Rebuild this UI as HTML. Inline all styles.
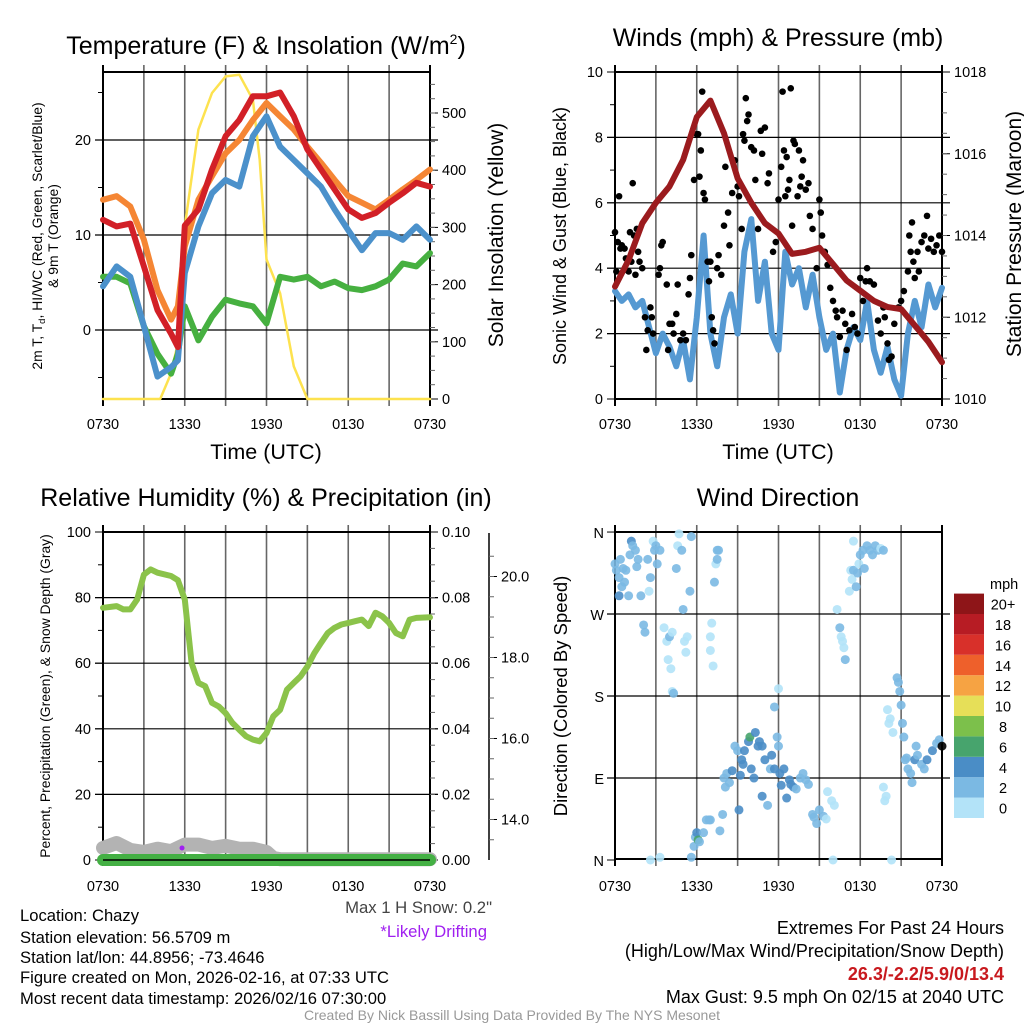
<!DOCTYPE html>
<html><head><meta charset="utf-8"><style>
body{margin:0;background:#fff;}
svg{display:block;font-family:"Liberation Sans",sans-serif;}
</style></head><body>
<svg id="fig" width="1024" height="1024" viewBox="0 0 1024 1024" xmlns="http://www.w3.org/2000/svg">
<rect width="1024" height="1024" fill="#fff"/>
<g id="texts">
<text x="266" y="54" font-size="25" text-anchor="middle">Temperature (F) &amp; Insolation (W/m<tspan font-size="14" dy="-10">2</tspan><tspan dy="10">)</tspan></text>
<text x="778" y="46" font-size="25" text-anchor="middle">Winds (mph) &amp; Pressure (mb)</text>
<text x="266" y="506" font-size="25" text-anchor="middle">Relative Humidity (%) &amp; Precipitation (in)</text>
<text x="778" y="506" font-size="25" text-anchor="middle">Wind Direction</text>
<text x="266" y="459" font-size="21.5" text-anchor="middle">Time (UTC)</text>
<text x="778" y="459" font-size="21.5" text-anchor="middle">Time (UTC)</text>
<text transform="translate(42,236) rotate(-90)" font-size="13.9" text-anchor="middle">2m T, T<tspan font-size="9.5" dy="3">d</tspan><tspan dy="-3">, HI/WC (Red, Green, Scarlet/Blue)</tspan></text>
<text transform="translate(58,236) rotate(-90)" font-size="13.9" text-anchor="middle">&amp; 9m T (Orange)</text>
<text transform="translate(503,235) rotate(-90)" font-size="21" text-anchor="middle">Solar Insolation (Yellow)</text>
<text transform="translate(566,236) rotate(-90)" font-size="18" text-anchor="middle">Sonic Wind &amp; Gust (Blue, Black)</text>
<text transform="translate(1021,234) rotate(-90)" font-size="21" text-anchor="middle">Station Pressure (Maroon)</text>
<text transform="translate(50,696) rotate(-90)" font-size="13.9" text-anchor="middle">Percent, Precipitation (Green), &amp; Snow Depth (Gray)</text>
<text transform="translate(567,696) rotate(-90)" font-size="18.5" text-anchor="middle">Direction (Colored By Speed)</text>
<text x="492" y="913" font-size="16.7" fill="#444" text-anchor="end">Max 1 H Snow: 0.2"</text>
<text x="487" y="937" font-size="16.7" fill="#a020f0" text-anchor="end">*Likely Drifting</text>
<g font-size="16.6">
<text x="20" y="921">Location: Chazy</text>
<text x="20" y="943">Station elevation: 56.5709 m</text>
<text x="20" y="963">Station lat/lon: 44.8956; -73.4646</text>
<text x="20" y="983">Figure created on Mon, 2026-02-16, at 07:33 UTC</text>
<text x="20" y="1004">Most recent data timestamp: 2026/02/16 07:30:00</text>
</g>
<g font-size="18" text-anchor="end">
<text x="1004" y="934">Extremes For Past 24 Hours</text>
<text x="1004" y="957">(High/Low/Max Wind/Precipitation/Snow Depth)</text>
<text x="1004" y="980" fill="#c8191e" font-weight="bold">26.3/-2.2/5.9/0/13.4</text>
<text x="1004" y="1003">Max Gust: 9.5 mph On 02/15 at 2040 UTC</text>
</g>
<text x="512" y="1020" font-size="14" fill="#999" text-anchor="middle">Created By Nick Bassill Using Data Provided By The NYS Mesonet</text>
</g>
</svg>
<script>
// ---- data (hours since 0730 UTC) ----
const hours = [0,1,2,3,4,5,5.5,6,7,8,9,10,11,12,13,14,15,16,17,18,19,20,21,22,23,24];
const tempRed = [11.6,10.9,11.2,6.7,2.1,-0.4,-1.8,11,12.7,16.9,20.4,22.1,24.6,24.6,25,22.5,19,16.9,14.8,12.7,11.8,12.3,13.4,14.4,15.5,15.1];
const temp9mOrange = [13.7,14.1,13,9.5,4.2,1.1,2.5,8.8,13.7,16.2,18.6,20,22.1,23.9,22.5,21.1,19.3,17.6,15.8,14.1,13.4,12.7,13.7,14.8,15.8,16.9];
const windChillBlue = [4.6,6.7,5.6,0.4,-4.9,-3.9,-3.2,6,10.9,14.4,15.8,15.1,20.4,22.5,19.3,17.9,16.5,15.1,12.7,10.5,8.4,10.2,10.2,9.5,10.9,9.5];
const dewGreen = [5.6,5.6,4.9,0.4,-2.5,-4.6,-2.5,2.5,-1.1,1.4,3.2,2.8,2.5,0.7,5.6,5.3,5.6,4.6,5.1,4.4,4.2,4.6,5.3,7,6.7,8.1];
const solarHours = [0,4.2,5,5.5,6,7,8,9,10,11,11.5,12,13,14,15,24];
const solarValues = [0,0,45,98,302,471,535,564,567,523,418,244,185,57,0,0];
const halfHours = [0,0.5,1,1.5,2,2.5,3,3.5,4,4.5,5,5.5,6,6.5,7,7.5,8,8.5,9,9.5,10,10.5,11,11.5,12,12.5,13,13.5,14,14.5,15,15.5,16,16.5,17,17.5,18,18.5,19,19.5,20,20.5,21,21.5,22,22.5,23,23.5,24];
const windSpeed = [3.3,3.0,3.2,2.8,3.0,2.2,1.4,2.0,1.6,1.0,1.8,0.6,2.5,5.0,2.0,1.0,2.5,3.2,2.0,4.5,5.5,3.0,4.2,2.0,1.5,4.5,3.5,4.0,2.8,3.8,2.5,1.5,2.0,0.2,1.5,2.2,1.8,3.0,1.5,0.8,1.6,0.6,0.1,2.0,3.0,2.2,3.5,2.8,3.4];
const pressureHours = [0,1,2,3,4,5,6,7,8,9,10,11,12,13,14,15,16,17,18,19,20,21,22,23,24];
const pressure = [1012.75,1013.4,1014.3,1014.8,1015.2,1015.85,1016.9,1017.3,1016.5,1015.4,1014.8,1014.3,1014.05,1013.55,1013.6,1013.7,1013.3,1012.9,1012.65,1012.4,1012.25,1012.2,1011.8,1011.4,1010.9];
const gustHours = [0,0.1,0.2,0.3,0.4,0.5,0.7,0.8,1,1.1,1.2,1.3,1.4,1.5,1.6,1.7,1.8,2.0,2.2,2.3,2.4,2.6,2.7,2.8,3.2,3.3,3.4,3.5,3.8,3.9,4.0,4.2,4.3,4.5,4.6,4.8,5.0,5.2,5.4,5.5,5.6,5.8,6.0,6.1,6.2,6.3,6.4,6.5,6.6,6.8,6.9,7.0,7.1,7.2,7.3,7.5,7.6,7.8,8.0,8.1,8.3,8.4,8.6,8.8,9.0,9.1,9.3,9.4,9.5,9.6,9.7,9.8,10.0,10.2,10.3,10.5,10.7,10.8,11.0,11.2,11.3,11.6,11.8,12.0,12.2,12.3,12.4,12.5,12.6,12.7,12.8,12.9,13.0,13.1,13.2,13.4,13.5,13.6,13.7,13.8,14.0,14.2,14.3,14.5,14.8,15.0,15.1,15.2,15.4,15.6,15.8,16.0,16.2,16.3,16.5,16.7,16.9,17.0,17.2,17.4,17.6,17.8,18.0,18.2,18.4,18.5,18.7,19.0,19.3,19.5,19.7,19.8,20.0,20.1,20.3,20.5,20.8,21.0,21.2,21.5,21.6,21.7,21.8,21.9,22.0,22.2,22.3,22.5,22.7,22.9,23.0,23.2,23.4,23.6,23.8,24];
const gustValues = [5.1,3.9,4.8,6.2,4.6,4.7,4.6,4.3,3.9,5.1,4.2,6.6,5.0,3.8,5.2,4.5,4.2,4.0,2.5,1.5,2.1,2.8,2.5,2.0,3.8,4.0,4.7,4.8,3.5,1.5,2.3,2.3,2.0,2.6,3.5,1.8,2.0,1.8,3.2,3.7,4.4,6.7,8.1,8.1,6.8,7.6,9.4,6.3,6.1,4.2,3.6,4.2,2.5,2.1,1.7,4.0,4.4,3.8,5.3,7.1,5.7,4.7,6.3,7.3,6.5,6.2,5.2,8.1,7.9,9.2,8.5,8.7,7.7,7.6,6.7,5.2,8.2,7.5,8.3,6.6,6.9,4.5,4.8,6.1,7.1,9.4,7.6,6.2,7.4,6.4,6.7,9.5,5.3,7.9,7.8,6.2,7.6,6.5,6.8,7.3,6.4,6.6,5.6,5.2,4.0,6.1,5.7,5.0,4.5,4.1,3.4,3.0,2.7,2.5,1.9,2.7,2.3,1.5,2.1,2.6,2.2,2.0,3.7,3.0,3.6,4.0,3.6,3.5,2.4,2.0,2.8,2.5,1.7,1.2,1.3,2.3,2.8,3.0,3.3,3.9,5.0,4.5,5.4,4.2,3.7,4.5,3.9,4.8,5.0,5.6,4.6,4.9,4.5,4.7,5.0,4.5];
const rhHours = [0,1,1.5,2,2.5,3,3.5,4,5,5.5,6,6.5,7,7.5,8,8.5,9,9.5,10,10.5,11,11.5,12,12.5,13,13.5,14,14.5,15,15.5,16,16.5,17,17.5,18,18.5,19,19.5,20,20.5,21,21.5,22,22.5,23,24];
const rhValues = [76.9,77.4,76.4,76.4,79.4,87,88.6,87.6,86.6,85.3,79.4,60,54,53,47.9,46.8,44.8,41.8,39.7,37.7,36.7,36.2,38.7,43.8,45.8,51.9,54,56,59,63,66.2,69.2,70.8,71.8,72.3,72.8,73.3,71.3,75.4,74.3,72.3,69.2,68.2,73.3,73.8,74];
const snowHours = [0,1,2,3,4,5,6,7,8,9,10,11,12,12.5,13,14,15,16,17,18,19,20,21,22,23,24];
const snowDepth = [13.3,13.42,13.25,13.2,13.28,13.22,13.38,13.38,13.3,13.35,13.28,13.28,13.2,13.05,13.02,13.02,13.02,13.02,13.02,13.02,13.02,13.02,13.02,13.02,13.02,13.02];
const precipHours = [0,24];
const precipValues = [0,0];
const dirHours = [0,0.1,0.3,0.3,0.4,0.5,0.6,0.7,0.8,1.0,1.1,1.2,1.3,1.5,1.6,1.7,1.9,2.1,2.2,2.4,2.5,2.6,2.8,2.9,3.0,3.1,3.3,3.6,3.8,3.9,4.0,4.1,4.2,4.3,4.2,4.5,4.6,4.7,4.9,5.0,5.1,5.2,5.3,5.5,5.6,7.0,7.1,7.0,7.2,7.3,7.4,7.5,7.5,7.6,2.6,3.3,5.6,5.8,5.9,6.0,6.1,6.2,6.5,6.7,6.9,7.0,7.7,7.9,8.0,8.1,8.2,8.4,8.6,8.8,9.0,9.1,9.2,9.3,9.4,9.5,9.8,9.9,10.0,10.2,10.3,10.5,10.6,10.8,10.8,11.0,11.2,11.4,11.5,11.7,11.9,12.0,12.1,12.2,12.4,12.6,12.8,12.9,13.1,13.3,13.6,13.8,14.0,14.2,14.5,14.6,14.8,15.0,15.3,15.5,15.6,15.9,16.1,12.0,11.7,16.0,16.3,16.5,16.6,16.7,16.8,16.9,17.2,17.3,17.4,17.5,17.7,17.8,17.9,18.0,18.2,18.5,18.7,18.9,19.1,19.3,19.5,19.7,18.3,17.5,19.7,19.9,19.8,20.0,20.1,20.2,20.4,20.3,20.7,20.8,20.9,21.0,21.1,21.2,21.3,21.4,21.5,21.7,21.8,22.0,22.1,22.2,22.5,22.7,22.9,23.3,23.6,23.8,24];
const dirDegrees = [325,318,310,290,330,300,320,305,318,290,335,350,345,340,322,330,290,258,250,330,295,310,350,340,345,325,340,255,240,220,245,210,185,183,250,320,345,358,340,275,240,228,245,295,355,245,260,230,213,305,325,330,340,340,0,3,3,15,25,30,22,20,30,44,44,44,32,50,90,80,95,85,98,125,120,55,93,110,105,120,130,135,100,90,140,125,130,125,70,110,60,100,115,100,135,125,95,82,100,68,88,83,80,78,90,95,88,83,50,47,40,55,48,45,75,65,60,188,168,0,275,255,245,240,233,220,295,318,308,318,300,315,325,335,340,345,340,335,345,340,342,340,320,350,80,70,65,165,150,155,140,0,200,195,185,170,150,135,110,112,100,95,85,110,125,115,105,100,110,120,128,132,125];
const dirSpeeds = [3,3,2.5,4,2.5,3,3,3,2.5,2.5,3,4,3,3,3,2,2,3,3,2.5,1,3,1,3,2.5,3,2,1,1,1,3,1,1,2,1,2,1,1,2,3,1,1,1,3,3,1,1,1,1,2,1,2,3,3,1,1,2,2,3,4,7,3,2,2,2,2,2,2,2,2,2,2,4,2,2,4,4,4,4,4,4,7,4,4,4,4,4,4,4,4,2,2,4,4,2,2,4,4,4,4,4,4,4,2,2,2,2,2,2,2,2,2,2,1,1,1,1,1,2,1,1,2,1,1,1,2,1,1,1,2,2,2,1,2,2,2,2,2,2,2,1,2,2,1,1,1,1,1,1,1,1,1,2,2,2,2,2,2,2,2,2,2,2,4,2,2,2,2,4,4,2,2];
const xTickLabels = ["0730","1330","1930","0130","0730"];
const speedBins = ["0","2","4","6","8","10","12","14","16","18","20+"];
const speedColors = ["#b3e3f8","#7bb9e3","#4a8dc6","#47a46d","#7cc04b","#e6df58","#f6a343","#ee602b","#d8302a","#b71c24","#8e1518"];

const NS="http://www.w3.org/2000/svg";
const svg=document.getElementById('fig');
function el(tag,attrs,parent){const e=document.createElementNS(NS,tag);for(const k in attrs)e.setAttribute(k,attrs[k]);(parent||svg).appendChild(e);return e;}
function txt(x,y,s,size,anchor,parent){const t=el('text',{x:x,y:y,'font-size':size,'text-anchor':anchor||'middle'},parent);t.textContent=s;return t;}

const PW=327,PH=327;
function panel(name,x0,y0){const g=el('g',{});return {g,x0,y0,xs:h=>x0+h*PW/24};}
function pathD(xs,ys){return xs.map((x,i)=>(i?'L':'M')+x.toFixed(1)+','+ys[i].toFixed(1)).join('');}
function grid(P,yValsPx,hLines){
  const g=P.g;
  for(let k=0;k<=8;k++){const x=P.x0+k*PW/8;
    el('line',{x1:x,x2:x,y1:P.y0-7,y2:P.y0+PH+7,stroke:(k==0||k==8)?'#000':'#666','stroke-width':(k==0||k==8)?2:1.6},g);}
  hLines.forEach(y=>{el('line',{x1:P.x0-8,x2:P.x0+PW+8,y1:y,y2:y,stroke:'#000','stroke-width':1.2},g);});
  el('line',{x1:P.x0,x2:P.x0+PW,y1:P.y0,y2:P.y0,stroke:'#000','stroke-width':2},g);
  el('line',{x1:P.x0,x2:P.x0+PW,y1:P.y0+PH,y2:P.y0+PH,stroke:'#000','stroke-width':2},g);
}
function xLabels(P,y){xTickLabels.forEach((s,i)=>{const t=txt(P.x0+i*PW/4,y,s,14.5,'middle',P.g);});}
function lTicks(P,vals,fy,labels,minor){vals.forEach((v,i)=>{const y=fy(v);if(labels[i]!==null){const t=txt(P.x0-12,y+5,labels[i],14.5,'end',P.g);}el('line',{x1:P.x0-8,x2:P.x0,y1:y,y2:y,stroke:'#000','stroke-width':1},P.g);});
  minor.forEach(v=>{const y=fy(v);el('line',{x1:P.x0-5,x2:P.x0,y1:y,y2:y,stroke:'#000','stroke-width':1},P.g);});}
function rTicks(P,vals,fy,labels,minor,xAxis){const xa=xAxis||P.x0+PW;vals.forEach((v,i)=>{const y=fy(v);const t=txt(xa+12,y+5,labels[i],14.5,'start',P.g);el('line',{x1:xa,x2:xa+8,y1:y,y2:y,stroke:'#000','stroke-width':1},P.g);});
  minor.forEach(v=>{const y=fy(v);el('line',{x1:xa,x2:xa+5,y1:y,y2:y,stroke:'#666','stroke-width':1},P.g);});}
function range(a,b,s){const r=[];for(let v=a;v<=b+1e-9;v+=s)r.push(+v.toFixed(4));return r;}
function line(P,xh,yv,fy,color,w,name){const p=el('path',{d:pathD(xh.map(P.xs),yv.map(fy)),fill:'none',stroke:color,'stroke-width':w,'stroke-linejoin':'round','stroke-linecap':'round'},P.g);return p;}

// ---- Temperature panel ----
{const P=panel('temperature-panel',103,72);
 const yT=v=>330-9.5*v, yS=v=>399-0.572*v;
 grid(P,[],[yT(0),yT(10),yT(20)]);
 lTicks(P,[0,10,20],yT,['0','10','20'],[-5,5,15,25]);
 rTicks(P,[0,100,200,300,400,500],yS,['0','100','200','300','400','500'],range(25,550,25));
 xLabels(P,429);
 line(P,solarHours,solarValues,yS,'#fde24f',2.5,'solar-insolation-line');
 line(P,hours,dewGreen,yT,'#46b040',6,'dewpoint-line');
 line(P,hours,windChillBlue,yT,'#4b91cb',6,'windchill-line');
 line(P,hours,temp9mOrange,yT,'#f58634',6,'temp-9m-line');
 line(P,hours,tempRed,yT,'#d22027',6,'temp-2m-line');
}
// ---- Wind panel ----
{const P=panel('wind-panel',615,72);
 const yW=v=>399-32.7*v, yP=p=>399-(p-1010)*40.875;
 grid(P,[],[2,4,6,8].map(yW));
 lTicks(P,[0,2,4,6,8,10],yW,['0','2','4','6','8','10'],[1,3,5,7,9]);
 rTicks(P,[1010,1012,1014,1016,1018],yP,['1010','1012','1014','1016','1018'],range(1010.5,1017.5,0.5));
 xLabels(P,429);
 line(P,halfHours,windSpeed,yW,'#5599d2',6,'wind-speed-line');
 gustHours.forEach((h,i)=>{const c=el('circle',{cx:P.xs(h),cy:yW(gustValues[i]),r:3.3,fill:'#000'},P.g);
  
  });
 line(P,pressureHours,pressure,yP,'#9b1b1e',6,'pressure-line');
}
// ---- Humidity panel ----
{const P=panel('humidity-panel',103,532);
 const yR=v=>860-3.28*v, yPr=v=>860-v*3280, ySn=v=>860-(v-13)*40.5;
 grid(P,[],[20,40,60,80].map(yR));
 lTicks(P,[0,20,40,60,80,100],yR,['0','20','40','60','80','100'],[10,30,50,70,90]);
 rTicks(P,[0,0.02,0.04,0.06,0.08,0.10],yPr,['0.00','0.02','0.04','0.06','0.08','0.10'],range(0.005,0.095,0.005));
 const ax=el('line',{x1:489,x2:489,y1:533,y2:860,stroke:'#000','stroke-width':1.5},P.g);
 
 
 rTicks(P,[14,16,18,20],ySn,['14.0','16.0','18.0','20.0'],range(13.5,20.5,0.5),489);
 xLabels(P,891);
 line(P,snowHours,snowDepth,ySn,'#b3b3b3',14,'snow-depth-line');
 line(P,precipHours,precipValues,yPr,'#44b044',12,'precipitation-line');
 el('line',{x1:103,x2:430,y1:860,y2:860,stroke:'#000','stroke-width':1.5},P.g);
 const d=el('circle',{cx:P.xs(5.8),cy:848,r:2.5,fill:'#a020f0'},P.g);
 
 
 line(P,rhHours,rhValues,yR,'#8bc34a',6,'relative-humidity-line');
}
// ---- Direction panel ----
{const P=panel('direction-panel',615,532);
 const yD=d=>860-d*0.911;
 grid(P,[],[90,180,270].map(yD));
 const labs=['N','E','S','W','N'];
 [0,90,180,270,360].forEach((d,i)=>{const t=txt(604,yD(d)+6,labs[i],14.5,'end',P.g);el('line',{x1:607,x2:615,y1:yD(d),y2:yD(d),stroke:'#000'},P.g);});
 xLabels(P,891);
 dirHours.forEach((h,i)=>{const bin=Math.min(10,Math.floor(dirSpeeds[i]/2));
  const c=el('circle',{cx:P.xs(h),cy:yD(dirDegrees[i]),r:4.5,fill:speedColors[bin],'fill-opacity':0.9},P.g);
  
  });
 const lg=el('g',{},P.g);
 
 
 txt(990,589,'mph',14.5,'start',lg);
 speedBins.forEach((s,i)=>{const y=818-(i+1)*20.4;
  const r=el('rect',{x:954,y:y,width:30,height:20.4,fill:speedColors[i]},lg);
  
  
  txt(1003,y+16,s,14.5,'middle',lg);});
}
</script>
</body></html>
